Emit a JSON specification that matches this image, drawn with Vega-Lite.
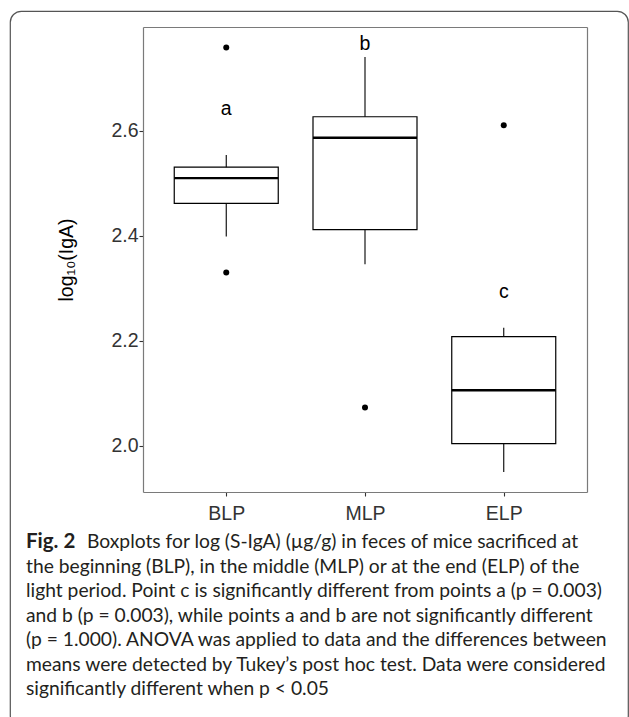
{
  "$schema": "https://vega.github.io/schema/vega-lite/v6.json",
  "width": 618,
  "height": 716,
  "autosize": {"type": "none"},
  "padding": {"left": 10, "top": 11, "right": 1, "bottom": 0},
  "background": "white",
  "config": {
    "view": {"stroke": "#555555", "strokeWidth": 1.2, "cornerRadius": 11},
    "font": "Liberation Sans",
    "axis": {"grid": false}
  },
  "datasets": {
    "boxes": [
      {"period": "BLP", "lower": 2.399, "q1": 2.462, "median": 2.510, "q3": 2.531, "upper": 2.554},
      {"period": "MLP", "lower": 2.346, "q1": 2.412, "median": 2.587, "q3": 2.627, "upper": 2.741},
      {"period": "ELP", "lower": 1.950, "q1": 2.004, "median": 2.106, "q3": 2.208, "upper": 2.225}
    ],
    "outliers": [
      {"period": "BLP", "value": 2.759},
      {"period": "BLP", "value": 2.330},
      {"period": "MLP", "value": 2.073},
      {"period": "ELP", "value": 2.611}
    ],
    "letters": [
      {"period": "BLP", "value": 2.630, "letter": "a"},
      {"period": "MLP", "value": 2.755, "letter": "b"},
      {"period": "ELP", "value": 2.281, "letter": "c"}
    ],
    "caption": [
      {"line": 1, "part": "label", "text": "Fig. 2"},
      {"line": 1, "part": "first", "text": "Boxplots for log (S-IgA) (µg/g) in feces of mice sacrificed at"},
      {"line": 2, "part": "body", "text": "the beginning (BLP), in the middle (MLP) or at the end (ELP) of the"},
      {"line": 3, "part": "body", "text": "light period. Point c is significantly different from points a (p = 0.003)"},
      {"line": 4, "part": "body", "text": "and b (p = 0.003), while points a and b are not significantly different"},
      {"line": 5, "part": "body", "text": "(p = 1.000). ANOVA was applied to data and the differences between"},
      {"line": 6, "part": "body", "text": "means were detected by Tukey’s post hoc test. Data were considered"},
      {"line": 7, "part": "body", "text": "significantly different when p < 0.05"}
    ]
  },
  "layer": [
    {
      "layer": [
        {
          "data": {"name": "boxes"},
          "mark": {"type": "rule", "color": "black", "strokeWidth": 1.1},
          "encoding": {
            "x": {
              "field": "period", "type": "nominal",
              "scale": {"type": "point", "domain": ["BLP", "MLP", "ELP"], "range": [133, 577], "padding": 0.6},
              "axis": {
                "orient": "bottom", "offset": -235, "title": null, "labelAngle": 0,
                "labelFontSize": 19.5, "labelColor": "#333333", "labelFont": "Liberation Sans",
                "tickColor": "#333333", "tickSize": 4, "tickWidth": 1.1, "labelPadding": 8,
                "domainColor": "#7a7a7a", "domainWidth": 1.2
              }
            },
            "y": {
              "field": "lower", "type": "quantitative",
              "scale": {"domain": [1.912, 2.798], "range": [481, 16], "nice": false, "zero": false},
              "axis": {
                "orient": "left", "offset": -133, "title": "log₁₀(IgA)",
                "titleFontSize": 19.5, "titleFontWeight": "normal", "titleColor": "black", "titleFont": "Liberation Sans",
                "titlePadding": 34,
                "values": [2.0, 2.2, 2.4, 2.6], "format": ".1f",
                "labelFontSize": 19.5, "labelColor": "#333333", "labelFont": "Liberation Sans",
                "tickColor": "#333333", "tickSize": 4, "tickWidth": 1.1, "labelPadding": 1,
                "domainColor": "#7a7a7a", "domainWidth": 1.2
              }
            },
            "y2": {"field": "upper"}
          }
        },
        {
          "data": {"name": "boxes"},
          "mark": {"type": "bar", "size": 104, "fill": "white", "stroke": "black", "strokeWidth": 1.2},
          "encoding": {
            "x": {
              "field": "period", "type": "nominal",
              "scale": {"type": "point", "domain": ["BLP", "MLP", "ELP"], "range": [133, 577], "padding": 0.6},
              "axis": {"orient": "top", "offset": -16, "labels": false, "ticks": false, "title": null, "domainColor": "#7a7a7a", "domainWidth": 1.2}
            },
            "y": {
              "field": "q1", "type": "quantitative",
              "scale": {"domain": [1.912, 2.798], "range": [481, 16], "nice": false, "zero": false},
              "axis": {"orient": "right", "offset": -41, "labels": false, "ticks": false, "title": null, "domainColor": "#7a7a7a", "domainWidth": 1.2}
            },
            "y2": {"field": "q3"}
          }
        },
        {
          "data": {"name": "boxes"},
          "mark": {"type": "tick", "size": 104, "thickness": 2.4, "color": "black", "opacity": 1},
          "encoding": {
            "x": {"field": "period", "type": "nominal", "axis": null},
            "y": {"field": "median", "type": "quantitative", "axis": null}
          }
        },
        {
          "data": {"name": "outliers"},
          "mark": {"type": "point", "filled": true, "size": 36, "color": "black", "opacity": 1},
          "encoding": {
            "x": {"field": "period", "type": "nominal", "axis": null},
            "y": {"field": "value", "type": "quantitative", "axis": null}
          }
        },
        {
          "data": {"name": "letters"},
          "mark": {"type": "text", "fontSize": 19.5, "font": "Liberation Sans", "align": "center", "baseline": "alphabetic", "color": "black"},
          "encoding": {
            "x": {"field": "period", "type": "nominal", "axis": null},
            "y": {"field": "value", "type": "quantitative", "axis": null},
            "text": {"field": "letter"}
          }
        }
      ],
      "resolve": {"axis": {"x": "independent", "y": "independent"}}
    },
    {
      "data": {"name": "caption"},
      "layer": [
        {
          "transform": [{"filter": "datum.part == 'label'"}],
          "mark": {"type": "text", "font": "Lato", "fontWeight": "bold", "fontSize": 20.5, "align": "left", "baseline": "alphabetic", "x": 16, "color": "#231f20"},
          "encoding": {
            "y": {"field": "line", "type": "quantitative", "scale": {"domain": [1, 7], "range": [537.3, 684.3]}, "axis": null},
            "text": {"field": "text"}
          }
        },
        {
          "transform": [{"filter": "datum.part == 'first'"}],
          "mark": {"type": "text", "font": "Lato", "fontSize": 19.25, "align": "left", "baseline": "alphabetic", "x": 77, "color": "#231f20"},
          "encoding": {
            "y": {"field": "line", "type": "quantitative", "axis": null},
            "text": {"field": "text"}
          }
        },
        {
          "transform": [{"filter": "datum.part == 'body'"}],
          "mark": {"type": "text", "font": "Lato", "fontSize": 19.25, "align": "left", "baseline": "alphabetic", "x": 16, "color": "#231f20"},
          "encoding": {
            "y": {"field": "line", "type": "quantitative", "axis": null},
            "text": {"field": "text"}
          }
        }
      ]
    }
  ],
  "resolve": {"scale": {"x": "independent", "y": "independent"}}
}
